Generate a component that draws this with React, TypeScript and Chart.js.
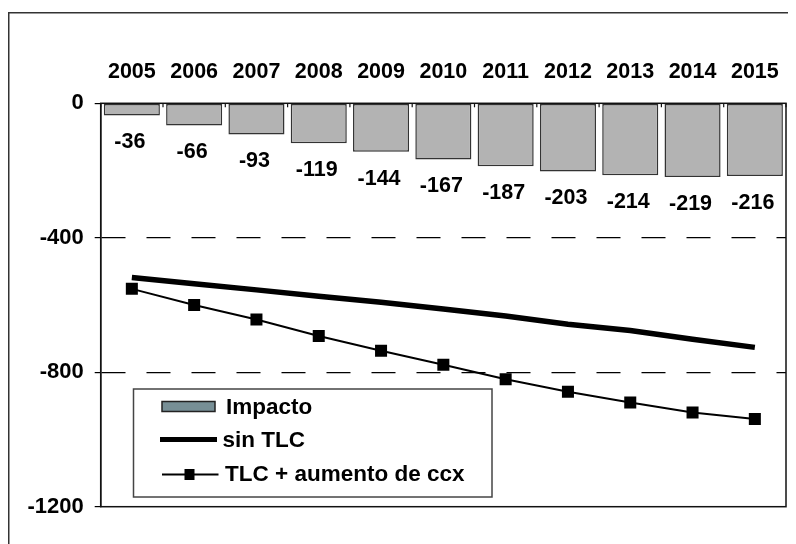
import React, { useEffect, useRef } from "react";
import { Chart, registerables } from "chart.js";

Chart.register(...registerables);

const years = ["2005", "2006", "2007", "2008", "2009", "2010", "2011", "2012", "2013", "2014", "2015"];
const impacto = [-36, -66, -93, -119, -144, -167, -187, -203, -214, -219, -216];
const sinTLC = [-518, -537, -555, -574, -592, -612, -633, -657, -676, -702, -726];
const tlcCcx = [-552, -600, -643, -692, -736, -778, -821, -858, -890, -920, -939];
const yTicks = [0, -400, -800, -1200];

const FONT = '"Liberation Sans", Arial, sans-serif';
const FS = 21.5;

const decorPlugin = {
  id: "decor",
  afterDatasetsDraw(chart: any) {
    const ctx = chart.ctx;
    const a = chart.chartArea;
    ctx.save();
    // plot border
    ctx.strokeStyle = "#111";
    ctx.lineWidth = 1.5;
    ctx.strokeRect(a.left, a.top, a.right - a.left, a.bottom - a.top);
    // inward x ticks at category boundaries
    const n = years.length;
    const cw = (a.right - a.left) / n;
    ctx.lineWidth = 1.2;
    for (let i = 0; i <= n; i++) {
      const x = a.left + i * cw;
      ctx.beginPath();
      ctx.moveTo(x, a.top);
      ctx.lineTo(x, a.top + 4);
      ctx.stroke();
    }
    // bar value labels
    const meta = chart.getDatasetMeta(0);
    ctx.fillStyle = "#000";
    ctx.font = `bold ${FS}px ${FONT}`;
    ctx.textAlign = "center";
    ctx.textBaseline = "middle";
    meta.data.forEach((el: any, i: number) => {
      ctx.fillText(String(impacto[i]), el.x - 2, el.y + 27);
    });
    // legend
    const ds = chart.data.datasets;
    ctx.font = `bold 22.5px ${FONT}`;
    ctx.fillStyle = "#fff";
    ctx.fillRect(125.5, 381, 358.5, 108);
    ctx.strokeStyle = "#444";
    ctx.lineWidth = 1.5;
    ctx.strokeRect(125.5, 381, 358.5, 108);
    ctx.textAlign = "left";
    // row 1
    ctx.fillStyle = "#778f96";
    ctx.fillRect(154, 393.5, 53, 10);
    ctx.strokeStyle = "#222";
    ctx.strokeRect(154, 393.5, 53, 10);
    ctx.fillStyle = "#000";
    ctx.fillText(ds[0].label, 218, 399.5);
    // row 2
    ctx.strokeStyle = "#000";
    ctx.lineWidth = 5;
    ctx.beginPath();
    ctx.moveTo(152, 431.5);
    ctx.lineTo(209, 431.5);
    ctx.stroke();
    ctx.fillText(ds[1].label, 214.5, 433);
    // row 3
    ctx.lineWidth = 2;
    ctx.beginPath();
    ctx.moveTo(154, 466.5);
    ctx.lineTo(210.5, 466.5);
    ctx.stroke();
    ctx.fillRect(176.5, 461, 10, 11);
    ctx.fillText(ds[2].label, 217, 467);
    // outer frame
    ctx.strokeStyle = "#333";
    ctx.lineWidth = 1.5;
    ctx.beginPath();
    ctx.moveTo(0.75, 600);
    ctx.lineTo(0.75, 4.75);
    ctx.lineTo(900, 4.75);
    ctx.stroke();
    ctx.restore();
  },
};

export default function App() {
  const ref = useRef<HTMLCanvasElement>(null);
  useEffect(() => {
    if (!ref.current) return;
    const chart = new Chart(ref.current, {
      type: "bar",
      data: {
        labels: years,
        datasets: [
          {
            type: "bar",
            label: "Impacto",
            data: impacto,
            backgroundColor: "#b3b3b3",
            borderColor: "#333",
            borderWidth: 1.5,
            borderSkipped: false,
            categoryPercentage: 0.9,
            barPercentage: 1,
          },
          {
            type: "line",
            label: "sin TLC",
            data: sinTLC,
            borderColor: "#000",
            borderWidth: 5.5,
            pointRadius: 0,
            tension: 0,
          },
          {
            type: "line",
            label: "TLC + aumento de ccx",
            data: tlcCcx,
            borderColor: "#000",
            backgroundColor: "#000",
            borderWidth: 2,
            pointStyle: "rect",
            pointRadius: 8.5,
            pointBorderWidth: 0,
            pointBackgroundColor: "#000",
            tension: 0,
          },
        ] as any,
      },
      options: {
        animation: false,
        responsive: false,
        maintainAspectRatio: false,
        layout: { padding: { left: 0, top: 0, right: 10, bottom: 37.3 } },
        plugins: { legend: { display: false }, tooltip: { enabled: false } },
        scales: {
          x: {
            position: "top",
            grid: { display: false },
            border: { display: false },
            ticks: {
              autoSkip: false,
              maxRotation: 0,
              padding: 10,
              color: "#000",
              font: { family: FONT, size: FS, weight: "bold" },
            },
            afterFit: (s: any) => {
              s.height = 95.3;
            },
          },
          y: {
            min: -1200,
            max: 0,
            afterBuildTicks: (s: any) => {
              s.ticks = yTicks.map((v) => ({ value: v }));
            },
            ticks: {
              padding: 11,
              color: "#000",
              font: { family: FONT, size: 22, weight: "bold" },
              callback: (v: any) => String(v),
            },
            grid: {
              color: (c: any) =>
                c.tick && (c.tick.value === -400 || c.tick.value === -800) ? "#000" : "rgba(0,0,0,0)",
              tickColor: "#000",
              tickLength: 6,
              lineWidth: 1.2,
              tickWidth: 1.2,
            },
            border: { display: true, color: "#111", width: 1.5, dash: [24, 21] },
            afterFit: (s: any) => {
              s.width = 92.7;
            },
          },
        },
      } as any,
      plugins: [decorPlugin],
    });
    return () => chart.destroy();
  }, []);
  return (
    <canvas
      ref={ref}
      width={788}
      height={536}
      style={{ display: "block", width: 788, height: 536 }}
    />
  );
}
